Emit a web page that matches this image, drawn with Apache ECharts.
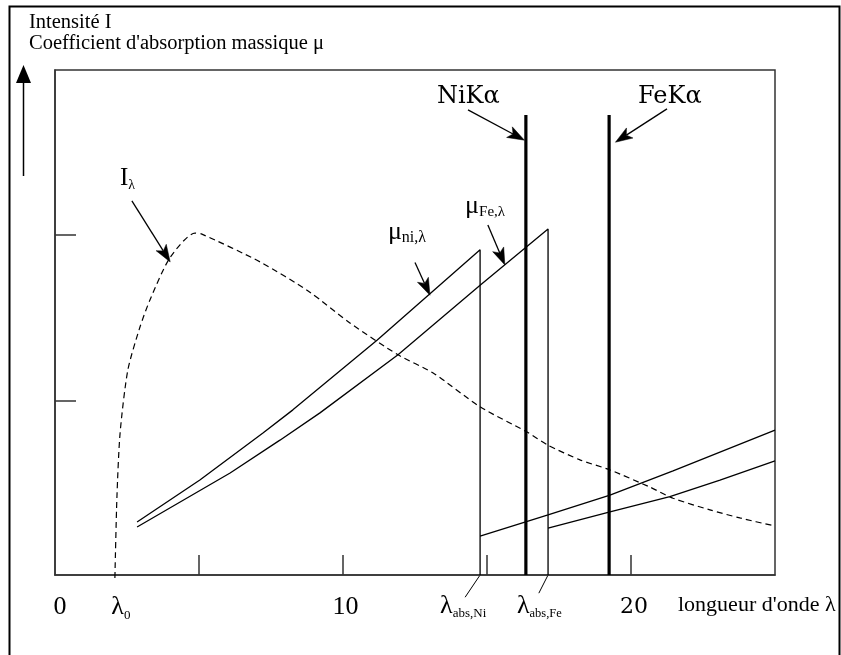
<!DOCTYPE html>
<html><head><meta charset="utf-8">
<script src="https://cdn.jsdelivr.net/npm/echarts@6/dist/echarts.min.js"></script>
<style>html,body{margin:0;padding:0;background:#fff}#c{width:841px;height:655px}</style>
</head><body><div id="c"></div>
<script>
// ---------- data (wavelength units, arbitrary intensity units) ----------
const intensityCurve = [[2.08,-0.6],[2.15,15.4],[2.26,28.1],[2.53,40.6],[2.95,49.1],[3.30,54.5],[3.99,62.8],[4.86,67.7],[5.10,67.5],[7.12,62.0],[8.85,56.0],[10.24,49.9],[11.91,43.6],[13.13,40.0],[14.76,33.3],[16.39,28.3],[17.12,25.7],[18.23,22.8],[19.27,20.8],[20.66,17.4],[21.46,15.2],[22.74,12.9],[23.78,11.3],[25,9.7]];
const muNiShort = [[2.85,10.5],[5.03,18.8],[7.22,28.1],[8.26,32.7],[11.18,46.5],[14.76,64.4],[14.76,0]];
const muNiLong = [[14.76,7.7],[17.12,11.9],[19.27,15.8],[21.46,20.6],[25,28.7]];
const muFeShort = [[2.85,9.5],[6.08,20.2],[7.81,26.7],[9.20,32.1],[11.91,43.6],[14.76,57.4],[17.12,68.5],[17.12,0]];
const muFeLong = [[17.12,9.3],[19.27,12.5],[21.35,15.5],[23.09,18.8],[25,22.6]];
const niKalpha = [[16.35,0],[16.35,91.1]];
const feKalpha = [[19.24,0],[19.24,91.1]];
const lambdaAbsNi = 14.76;
const lambdaAbsFe = 17.12;

const xTickValues = [5,10,15,20];
const yTickValues = [34.46,67.33];
const xLabelValues = [0,2.08,10,20];
const xLabelTexts = ['{n0|0}','{l|λ}{s|0}','{n|10}','{d|20}'];

// ---------- chart ----------
const SERIF = '"Liberation Serif","Times New Roman",serif';
const DJ = '"DejaVu Serif",serif';
const chart = echarts.init(document.getElementById('c'), null, {renderer:'canvas'});

function ln(name, data, extra) {
  return Object.assign({
    name, type:'line', data, symbol:'none', silent:true, clip:false,
    lineStyle:{color:'#000', width:1.3}, emphasis:{disabled:true}
  }, extra || {});
}

const axisLineStyle = {color:'#333', width:1.5};

chart.setOption({
  animation:false,
  backgroundColor:'#fff',
  grid:{left:55, top:70, width:720, height:505, show:true, borderColor:'#333', borderWidth:1.5, containLabel:false},
  xAxis:{
    type:'value', min:0, max:25,
    axisLine:{show:true, onZero:false, lineStyle:axisLineStyle},
    axisTick:{show:true, inside:true, length:20, customValues:xTickValues, lineStyle:axisLineStyle},
    axisLabel:{
      show:true, customValues:xLabelValues, margin:17, color:'#000',
      formatter:function(v){
        const i = xLabelValues.findIndex(t => Math.abs(t - v) < 1e-6);
        return i >= 0 ? xLabelTexts[i] : '';
      },
      rich:{
        n0:{fontFamily:SERIF, fontSize:26, lineHeight:30, padding:[0,0,0,10], color:'#000'},
        n:{fontFamily:SERIF, fontSize:26, lineHeight:30, padding:[0,0,0,5], color:'#000'},
        l:{fontFamily:SERIF, fontSize:26, lineHeight:30, padding:[0,0,0,12], color:'#000'},
        s:{fontFamily:SERIF, fontSize:13, lineHeight:24, verticalAlign:'bottom', color:'#000'},
        d:{fontFamily:DJ, fontSize:22, lineHeight:30, padding:[0,0,0,6], color:'#000'}
      }
    },
    splitLine:{show:false}
  },
  yAxis:{
    type:'value', min:0, max:100,
    axisLine:{show:true, onZero:false, lineStyle:axisLineStyle},
    axisTick:{show:true, inside:true, length:21, customValues:yTickValues, lineStyle:axisLineStyle},
    axisLabel:{show:false},
    splitLine:{show:false}
  },
  series:[
    ln('I', intensityCurve, {smooth:0.25, lineStyle:{color:'#000', width:1.2, type:[6,4]}}),
    ln('muNi1', muNiShort),
    ln('muNi2', muNiLong),
    ln('muFe1', muFeShort),
    ln('muFe2', muFeLong),
    ln('NiKa', niKalpha, {lineStyle:{color:'#000', width:3.2}}),
    ln('FeKa', feKalpha, {lineStyle:{color:'#000', width:3.2}})
  ]
});

// ---------- annotations (anchored in data coordinates) ----------
const arrows = [
  {from:[2.67,74.1], to:[4.0,62.0]},
  {from:[12.5,61.9], to:[13.02,55.4]},
  {from:[15.03,69.3], to:[15.62,61.4]},
  {from:[14.34,92.1], to:[16.30,86.1]},
  {from:[21.25,92.3], to:[19.46,85.7]}
];
const leaders = [
  {from:[lambdaAbsNi,0], to:[14.24,-4.4]},
  {from:[lambdaAbsFe,0], to:[16.80,-3.6]}
];
const notes = [
  {at:[2.257,78.5], text:'{a|I}{b|λ}', rich:{a:{fontFamily:SERIF,fontSize:25,lineHeight:28}, b:{fontFamily:SERIF,fontSize:14,lineHeight:22,verticalAlign:'bottom'}}},
  {at:[11.56,67.9], text:'{a|μ}{b|ni,λ}', rich:{a:{fontFamily:SERIF,fontSize:26,lineHeight:28}, b:{fontFamily:SERIF,fontSize:16,lineHeight:24,verticalAlign:'bottom'}}},
  {at:[14.24,73.1], text:'{a|μ}{b|Fe,λ}', rich:{a:{fontFamily:SERIF,fontSize:26,lineHeight:28}, b:{fontFamily:SERIF,fontSize:15,lineHeight:24,verticalAlign:'bottom'}}},
  {at:[13.26,94.7], text:'{a|NiKα}', rich:{a:{fontFamily:DJ,fontSize:24,lineHeight:28}}},
  {at:[20.24,94.7], text:'{a|FeKα}', rich:{a:{fontFamily:DJ,fontSize:24,lineHeight:28}}},
  {at:[13.37,-6.14], text:'{a|λ}{b|abs,Ni}', rich:{a:{fontFamily:SERIF,fontSize:26,lineHeight:28}, b:{fontFamily:SERIF,fontSize:13,lineHeight:22,verticalAlign:'bottom'}}},
  {at:[16.04,-6.14], text:'{a|λ}{b|abs,Fe}', rich:{a:{fontFamily:SERIF,fontSize:26,lineHeight:28}, b:{fontFamily:SERIF,fontSize:12.5,lineHeight:22,verticalAlign:'bottom'}}}
];

function px(p){ return chart.convertToPixel({gridIndex:0}, p); }

const g = [];
arrows.forEach(a => {
  const s = px(a.from), t = px(a.to);
  const dx = t[0]-s[0], dy = t[1]-s[1], L = Math.hypot(dx,dy);
  const ux = dx/L, uy = dy/L, nx = -uy, ny = ux;
  const H = 17, W = 6, N = 4;
  const bx = t[0]-ux*H, by = t[1]-uy*H;
  const mx = t[0]-ux*(H-N), my = t[1]-uy*(H-N);
  g.push({type:'line', silent:true, shape:{x1:s[0],y1:s[1],x2:mx,y2:my}, style:{stroke:'#000', lineWidth:1.3}});
  g.push({type:'polygon', silent:true, shape:{points:[[t[0],t[1]],[bx+nx*W,by+ny*W],[mx,my],[bx-nx*W,by-ny*W]]}, style:{fill:'#000', stroke:'#000', lineWidth:0.5}});
});
leaders.forEach(a => {
  const s = px(a.from), t = px(a.to);
  g.push({type:'line', silent:true, shape:{x1:s[0],y1:s[1],x2:t[0],y2:t[1]}, style:{stroke:'#000', lineWidth:1}});
});
notes.forEach(n => {
  const p = px(n.at);
  g.push({type:'text', silent:true, x:p[0], y:p[1], style:{text:n.text, rich:n.rich, fill:'#000', align:'left', verticalAlign:'middle'}});
});
// frame, y-axis arrow, titles
g.push({type:'rect', silent:true, shape:{x:9.5, y:6.5, width:830, height:700}, style:{fill:'none', stroke:'#000', lineWidth:2}});
g.push({type:'line', silent:true, shape:{x1:23.5, y1:80, x2:23.5, y2:176}, style:{stroke:'#000', lineWidth:1.5}});
g.push({type:'polygon', silent:true, shape:{points:[[23.5,65],[16,83],[31,83]]}, style:{fill:'#000'}});
g.push({type:'text', silent:true, x:29, y:22.8, style:{text:'Intensité I', font:'20.5px ' + SERIF, fill:'#000', align:'left', verticalAlign:'middle'}});
g.push({type:'text', silent:true, x:29, y:44.1, style:{text:"Coefficient d'absorption massique μ", font:'20.5px ' + SERIF, fill:'#000', align:'left', verticalAlign:'middle'}});
g.push({type:'text', silent:true, x:678, y:605.6, style:{text:"longueur d'onde λ", font:'22px ' + SERIF, fill:'#000', align:'left', verticalAlign:'middle'}});

chart.setOption({graphic:g});
</script>
</body></html>
